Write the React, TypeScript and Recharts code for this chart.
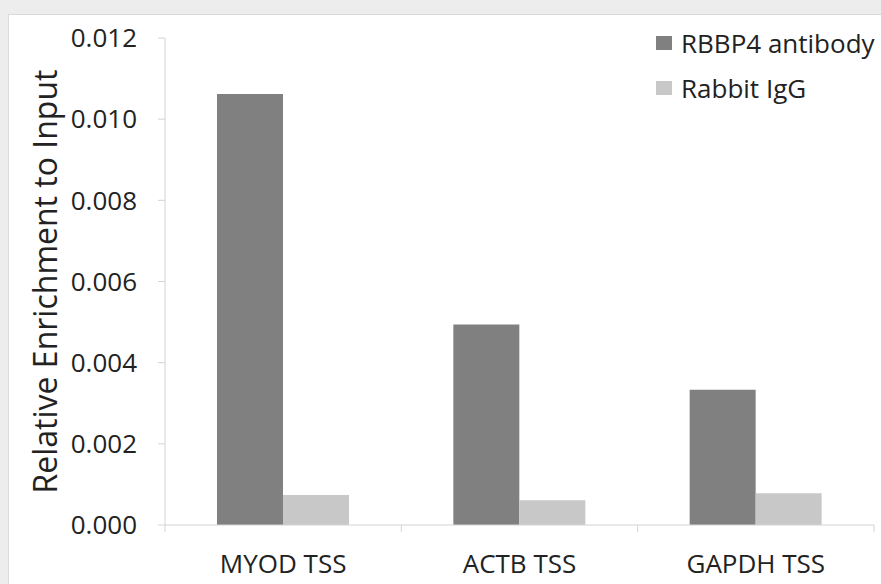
import React from "react";
import { BarChart, Bar, XAxis, YAxis, Legend } from "recharts";

const categories = ["MYOD TSS", "ACTB TSS", "GAPDH TSS"];
const rbbp4Values = [0.01062, 0.00494, 0.00333];
const iggValues = [0.00074, 0.00061, 0.00078];
const yTicks = [0, 0.002, 0.004, 0.006, 0.008, 0.01, 0.012];

const seriesNames = ["RBBP4 antibody", "Rabbit IgG"];
const seriesColors = ["#808080", "#c8c8c8"];

const W = 881;
const H = 584;
const MARGIN = { top: 38, right: 7, left: 0, bottom: 0 };
const Y_AXIS_WIDTH = 165;
const X_AXIS_HEIGHT = 59;
const FONT = "'Open Sans', 'Noto Sans', sans-serif";
const AXIS_COLOR = "#d4d4d4";

const data = categories.map((name, i) => ({
  name,
  rbbp4: rbbp4Values[i],
  igg: iggValues[i],
}));

const bandWidth = (W - MARGIN.left - MARGIN.right - Y_AXIS_WIDTH) / categories.length;

const CategoryTick = (props: any) => {
  const { x, y, payload, index } = props;
  const half = bandWidth / 2;
  return (
    <g>
      <line x1={x - half} x2={x - half} y1={y} y2={y + 7} stroke={AXIS_COLOR} />
      {index === categories.length - 1 && (
        <line x1={x + half} x2={x + half} y1={y} y2={y + 7} stroke={AXIS_COLOR} />
      )}
      <text x={x} y={y + 48} textAnchor="middle" fontSize={26} fill="#222" fontFamily={FONT}>
        {payload.value}
      </text>
    </g>
  );
};

const YLabel = (props: any) => {
  const { viewBox } = props;
  const cx = 46;
  const cy = viewBox.y + viewBox.height / 2;
  return (
    <text
      x={cx}
      y={cy}
      dy="0.35em"
      textAnchor="middle"
      fontSize={32}
      fill="#222"
      fontFamily={FONT}
      transform={`rotate(-90, ${cx}, ${cy})`}
    >
      Relative Enrichment to Input
    </text>
  );
};

const LegendContent = () => (
  <div style={{ fontFamily: FONT, fontSize: 26, color: "#222" }}>
    {seriesNames.map((n, i) => (
      <div key={n} style={{ display: "flex", alignItems: "center", height: 45 }}>
        <span
          style={{
            display: "inline-block",
            width: 16,
            height: 14,
            background: seriesColors[i],
            marginRight: 9,
          }}
        />
        {n}
      </div>
    ))}
  </div>
);

export default function App() {
  return (
    <div
      style={{
        position: "fixed",
        left: 0,
        top: 0,
        width: W,
        height: H,
        background: "#ededed",
        overflow: "hidden",
      }}
    >
      <div
        style={{
          position: "absolute",
          left: 8,
          top: 14,
          right: -2,
          bottom: -2,
          background: "#fff",
          border: "1px solid #dadada",
        }}
      />
      <div style={{ position: "absolute", left: 0, top: 0 }}>
        <BarChart
          width={W}
          height={H}
          data={data}
          margin={MARGIN}
          barCategoryGap="22%"
          barGap={0}
        >
          <XAxis
            dataKey="name"
            height={X_AXIS_HEIGHT}
            axisLine={{ stroke: AXIS_COLOR }}
            tickLine={false}
            tickSize={0}
            tickMargin={0}
            tick={<CategoryTick />}
            interval={0}
          />
          <YAxis
            width={Y_AXIS_WIDTH}
            domain={[0, 0.012]}
            ticks={yTicks}
            tickFormatter={(v: number) => v.toFixed(3)}
            axisLine={{ stroke: AXIS_COLOR }}
            tickLine={{ stroke: AXIS_COLOR }}
            tickSize={7}
            tickMargin={21}
            tick={{ fontSize: 26, fill: "#222", fontFamily: FONT }}
            label={<YLabel />}
          />
          <Legend
            verticalAlign="middle"
            align="center"
            layout="horizontal"
            content={<LegendContent />}
            wrapperStyle={{ top: 20, left: 656, width: 225 }}
          />
          <Bar dataKey="rbbp4" name={seriesNames[0]} fill={seriesColors[0]} isAnimationActive={false} />
          <Bar dataKey="igg" name={seriesNames[1]} fill={seriesColors[1]} isAnimationActive={false} />
        </BarChart>
      </div>
    </div>
  );
}
